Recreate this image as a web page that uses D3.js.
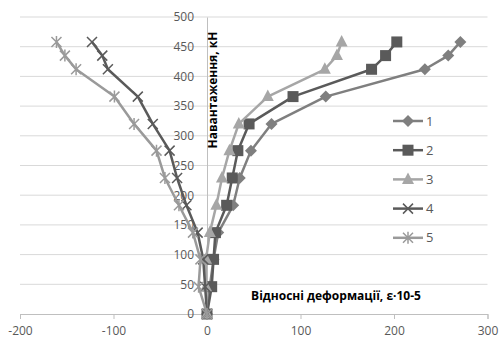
<!DOCTYPE html>
<html>
<head>
<meta charset="utf-8">
<script src="https://cdn.jsdelivr.net/npm/d3@7"></script>
<style>
  body { margin: 0; background: #fff; }
  svg text { font-family: "Open Sans", "Liberation Sans", sans-serif; }
</style>
</head>
<body>
<div id="chart"></div>
<script>
// load levels, kN
const loads = [0, 46, 92, 137, 183, 229, 275, 320, 366, 412, 435, 458];
// relative strains, e-5
const s1 = [0, 3, 7, 12, 28, 35, 47, 69, 127, 233, 258, 271];
const s2 = [0, 5, 7, 9, 21, 27, 33, 45, 92, 176, 191, 203];
const s3 = [0, -1, -1, 3, 10, 16, 24, 34, 65, 126, 139, 144];
const s4 = [0, -2, -4, -10, -22, -32, -40, -58, -74, -106, -112, -123];
const s5 = [0, -9, -7, -15, -30, -45, -54, -78, -99, -140, -152, -161];
const seriesNames = ["1", "2", "3", "4", "5"];
const xTicks = [-200, -100, 0, 100, 200, 300];
const yTicks = [0, 50, 100, 150, 200, 250, 300, 350, 400, 450, 500];

const width = 499, height = 342;
const svg = d3.select("#chart").append("svg")
    .attr("width", width)
    .attr("height", height);

const x = d3.scaleLinear().domain([-200, 300]).range([20, 487.5]);
const y = d3.scaleLinear().domain([0, 500]).range([314, 17]);

// gridlines
svg.append("g").selectAll("line")
    .data(yTicks.filter(d => d > 0))
    .enter().append("line")
    .attr("x1", x(-200)).attr("x2", x(300))
    .attr("y1", d => y(d)).attr("y2", d => y(d))
    .attr("stroke", "#d9d9d9").attr("stroke-width", 1);

// x axis (plain hyphen for negatives, like the original)
const xAxis = svg.append("g")
    .attr("transform", `translate(0,${y(0)})`)
    .call(d3.axisBottom(x).tickValues(xTicks).tickFormat(d => String(d)).tickSize(5).tickPadding(7));
xAxis.select(".domain").attr("stroke", "#bfbfbf");
xAxis.selectAll(".tick line").attr("stroke", "#bfbfbf");
xAxis.selectAll("text").attr("fill", "#595959").style("font-size", "12px");

// y axis at x = 0
const yAxis = svg.append("g")
    .attr("transform", `translate(${x(0)},0)`)
    .call(d3.axisLeft(y).tickValues(yTicks).tickFormat(d => String(d)).tickSize(0).tickPadding(13));
yAxis.select(".domain").attr("stroke", "#bfbfbf");
yAxis.selectAll("text").attr("fill", "#595959").style("font-size", "12px");

const series = [
    { name: seriesNames[0], values: s1, color: "#7f7f7f", marker: "diamond" },
    { name: seriesNames[1], values: s2, color: "#5a5a5a", marker: "square" },
    { name: seriesNames[2], values: s3, color: "#a6a6a6", marker: "triangle" },
    { name: seriesNames[3], values: s4, color: "#5a5a5a", marker: "x" },
    { name: seriesNames[4], values: s5, color: "#9a9a9a", marker: "star" }
];

function drawMarker(g, type, color) {
    if (type === "diamond") {
        g.append("path").attr("d", "M0,-6L6,0L0,6L-6,0Z").attr("fill", color);
    } else if (type === "square") {
        g.append("rect").attr("x", -5.5).attr("y", -5.5).attr("width", 11).attr("height", 11).attr("fill", color);
    } else if (type === "triangle") {
        g.append("path").attr("d", "M0,-7L6,4.5L-6,4.5Z").attr("fill", color);
    } else if (type === "x") {
        g.append("path").attr("d", "M-5,-5L5,5M-5,5L5,-5")
            .attr("stroke", color).attr("stroke-width", 1.5);
    } else {
        g.append("path").attr("d", "M-5,-5L5,5M-5,5L5,-5M0,-6L0,6")
            .attr("stroke", color).attr("stroke-width", 1.5);
    }
}

const line = d3.line()
    .x(d => x(d[0]))
    .y(d => y(d[1]));

series.forEach(s => {
    const pts = s.values.map((v, i) => [v, loads[i]]);
    svg.append("path")
        .datum(pts)
        .attr("d", line)
        .attr("fill", "none")
        .attr("stroke", s.color)
        .attr("stroke-width", 2.5)
        .attr("stroke-linejoin", "round");
    pts.forEach(p => {
        const g = svg.append("g").attr("transform", `translate(${x(p[0])},${y(p[1])})`);
        drawMarker(g, s.marker, s.color);
    });
});

// legend
const legend = svg.append("g");
series.forEach((s, i) => {
    const ly = 121 + i * 29.2;
    const g = legend.append("g");
    g.append("line")
        .attr("x1", 393).attr("x2", 423)
        .attr("y1", ly).attr("y2", ly)
        .attr("stroke", s.color).attr("stroke-width", 2.5);
    const m = g.append("g").attr("transform", `translate(408,${ly})`);
    drawMarker(m, s.marker, s.color);
    g.append("text")
        .attr("x", 426).attr("y", ly + 4.5)
        .attr("fill", "#595959")
        .style("font-size", "13px")
        .text(s.name);
});

// axis titles
svg.append("text")
    .attr("transform", `translate(217,90) rotate(-90)`)
    .attr("text-anchor", "middle")
    .style("font-size", "12px")
    .style("font-weight", "bold")
    .attr("fill", "#000")
    .text("Навантаження, кН");

svg.append("text")
    .attr("x", 336).attr("y", 300)
    .attr("text-anchor", "middle")
    .style("font-size", "12px")
    .style("font-weight", "bold")
    .attr("fill", "#000")
    .text("Відносні деформації, ε·10-5");
</script>
</body>
</html>
